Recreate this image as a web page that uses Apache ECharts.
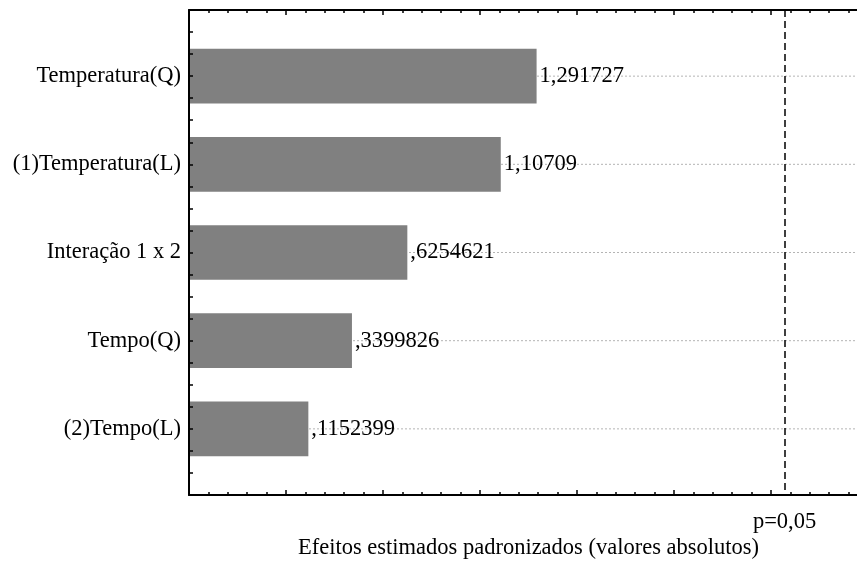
<!DOCTYPE html>
<html>
<head>
<meta charset="utf-8">
<title>Pareto de efeitos</title>
<script src="https://cdn.jsdelivr.net/npm/echarts@6/dist/echarts.min.js"></script>
<style>
  html, body { margin: 0; padding: 0; background: #ffffff; }
  #chart { width: 857px; height: 575px; }
</style>
</head>
<body>
<div id="chart"></div>
<script>
// Effects (absolute standardized values), ordered top to bottom
const categories = ['Temperatura(Q)', '(1)Temperatura(L)', 'Interação 1 x 2', 'Tempo(Q)', '(2)Tempo(L)'];
const effects = [1.291727, 1.10709, 0.6254621, 0.3399826, 0.1152399];
// Critical t value for p = 0,05
const pCritical = 2.571;
const pLabel = 'p=0,05';
const xTitle = 'Efeitos estimados padronizados (valores absolutos)';

const X_MIN = -0.5, X_MAX = 3, X_STEP = 0.5;
const Y_MIN = 0.25, Y_MAX = 5.75, Y_STEP = 0.25;
const BAR_BAND = 0.62;
const FONT = 'Liberation Serif, Times New Roman, serif';
const FONT_SIZE = 22.5;

// STATISTICA-style number text: decimal comma, no leading zero
function fmt(v) {
  let s = String(v).replace('.', ',');
  if (s.startsWith('0,')) s = s.slice(1);
  return s;
}

const positions = categories.map((c, i) => i + 1);
const barData = effects.map((v, i) => [v, positions[i]]);

const chart = echarts.init(document.getElementById('chart'), null, { renderer: 'canvas' });

const axisLineStyle = { color: '#000', width: 2 };
const tickStyle = { color: '#000', width: 1.5 };

const xAxisBase = {
  type: 'value', z: 10,
  min: X_MIN, max: X_MAX, interval: X_STEP,
  axisLine: { show: true, onZero: false, lineStyle: axisLineStyle },
  axisTick: { show: true, inside: true, length: 5, lineStyle: tickStyle },
  minorTick: { show: true, splitNumber: 5, length: 3, lineStyle: tickStyle },
  axisLabel: { show: false },
  splitLine: { show: false }
};

chart.setOption({
  animation: false,
  backgroundColor: '#ffffff',
  // plot area runs a little past the right edge of the canvas
  grid: { left: 189, top: 10, width: 679, bottom: 80, containLabel: false, outerBoundsMode: 'none' },
  xAxis: [
    Object.assign({}, xAxisBase, {
      position: 'bottom',
      name: xTitle, nameLocation: 'middle', nameGap: 42,
      nameTextStyle: { fontFamily: FONT, fontSize: FONT_SIZE, color: '#000' }
    }),
    Object.assign({}, xAxisBase, { position: 'top' })
  ],
  yAxis: [
    {
      // category names at whole positions
      type: 'value', inverse: true, position: 'left', z: 10,
      min: Y_MIN, max: Y_MAX, interval: Y_STEP,
      axisLine: { show: true, onZero: false, lineStyle: axisLineStyle },
      axisTick: { show: false },
      splitLine: { show: false },
      axisLabel: {
        show: true, margin: 8,
        fontFamily: FONT, fontSize: FONT_SIZE, color: '#000',
        formatter: function (v) {
          const k = Math.round(v);
          return Math.abs(v - k) < 1e-9 && k >= 1 && k <= categories.length ? categories[k - 1] : '';
        }
      }
    },
    {
      // tick marks every quarter step
      type: 'value', inverse: true, position: 'left', offset: 0, z: 10,
      min: Y_MIN, max: Y_MAX, interval: Y_STEP,
      axisLine: { show: false, onZero: false },
      axisTick: { show: true, inside: true, length: 4, lineStyle: tickStyle },
      axisLabel: { show: false },
      splitLine: { show: false }
    }
  ],
  series: [
    {
      // dotted guide line through each category
      type: 'custom', z: 1, silent: true,
      data: barData,
      renderItem: function (params, api) {
        const cs = params.coordSys;
        const y = api.coord([X_MIN, api.value(1)])[1];
        return {
          type: 'line',
          shape: { x1: cs.x, y1: y, x2: cs.x + cs.width, y2: y },
          style: { stroke: '#b4b4b4', lineWidth: 1, lineDash: [2, 2] }
        };
      }
    },
    {
      type: 'custom', z: 3,
      data: barData,
      renderItem: function (params, api) {
        const v = api.value(0), pos = api.value(1);
        const start = api.coord([X_MIN, pos]);
        const end = api.coord([v, pos]);
        const h = api.size([0, BAR_BAND])[1];
        return {
          type: 'group',
          children: [
            {
              type: 'rect',
              shape: { x: start[0], y: start[1] - h / 2, width: end[0] - start[0], height: h },
              style: { fill: '#808080' }
            },
            {
              type: 'text',
              x: end[0] + 3, y: end[1],
              style: {
                text: fmt(v), fill: '#000',
                font: FONT_SIZE + 'px ' + FONT,
                verticalAlign: 'middle', align: 'left'
              }
            }
          ]
        };
      },
      markLine: {
        silent: true, symbol: 'none',
        lineStyle: { color: '#000', width: 1.5, type: [7, 4] },
        label: {
          show: true, position: 'end', distance: 16,
          formatter: pLabel,
          fontFamily: FONT, fontSize: FONT_SIZE, color: '#000'
        },
        data: [{ xAxis: pCritical }]
      }
    }
  ]
});
</script>
</body>
</html>
